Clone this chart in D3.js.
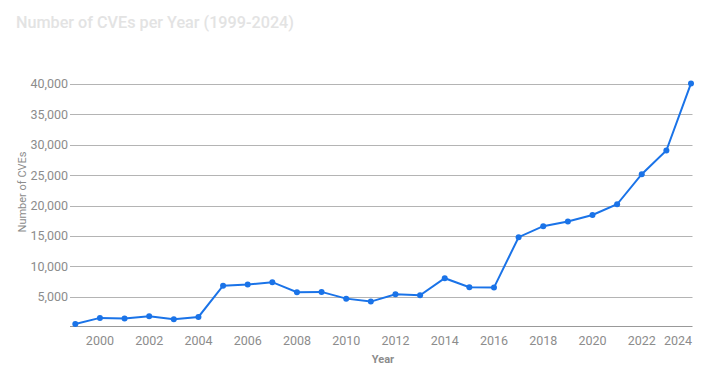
<!DOCTYPE html>
<html>
<head>
<meta charset="utf-8">
<script src="https://cdn.jsdelivr.net/npm/d3@7.9.0/dist/d3.min.js"></script>
<style>
  body { margin: 0; background: #fff; }
  svg { display: block; font-family: Roboto, "Noto Sans", sans-serif; }
</style>
</head>
<body>
<svg id="chart" width="708" height="380"></svg>
<script>
// Chart data
const years = d3.range(1999, 2025);
const cves = [500, 1500, 1400, 1750, 1270, 1650, 6800, 6980, 7380, 5720, 5780, 4670, 4180,
  5400, 5230, 8030, 6550, 6490, 14780, 16600, 17360, 18430, 20200, 25150, 29050, 40100];
const yTicks = [5000, 10000, 15000, 20000, 25000, 30000, 35000, 40000];
const xTicks = [2000, 2002, 2004, 2006, 2008, 2010, 2012, 2014, 2016, 2018, 2020, 2022, 2024];

const data = years.map((y, i) => ({ year: y, value: cves[i] }));

const svg = d3.select("#chart");

// Scales
const x = d3.scaleLinear().domain([1999, 2024]).range([75.3, 691]);
const y = d3.scaleLinear().domain([0, 40000]).range([327, 84]);

// Title
svg.append("text")
  .attr("x", 16).attr("y", 28)
  .attr("font-size", 16.2).attr("font-weight", 500)
  .attr("fill", "#e3e3e3")
  .text("Number of CVEs per Year (1999-2024)");

// Gridlines + y labels
const grid = svg.append("g");
yTicks.forEach(t => {
  grid.append("line")
    .attr("x1", 70).attr("x2", 692.5)
    .attr("y1", Math.round(y(t)) + 0.5).attr("y2", Math.round(y(t)) + 0.5)
    .attr("stroke", "#b4b4b4").attr("stroke-width", 1);
  grid.append("text")
    .attr("x", 68).attr("y", y(t))
    .attr("dy", "0.35em")
    .attr("text-anchor", "end")
    .attr("font-size", 12.5)
    .attr("fill", "#8c8c8c")
    .text(d3.format(",")(t));
});

// Baseline
svg.append("line")
  .attr("x1", 70).attr("x2", 692.5)
  .attr("y1", Math.round(y(0)) - 0.5).attr("y2", Math.round(y(0)) - 0.5)
  .attr("stroke", "#999").attr("stroke-width", 1);

// X labels
xTicks.forEach((t, i) => {
  const last = i === xTicks.length - 1;
  svg.append("text")
    .attr("x", last ? 692 : x(t))
    .attr("y", 345)
    .attr("text-anchor", last ? "end" : "middle")
    .attr("font-size", 12.5)
    .attr("fill", "#8c8c8c")
    .text(t);
});

// Axis titles
svg.append("text")
  .attr("x", 383).attr("y", 363)
  .attr("text-anchor", "middle")
  .attr("font-size", 11).attr("font-weight", 700)
  .attr("fill", "#8c8c8c")
  .text("Year");

svg.append("text")
  .attr("transform", "translate(26,192) rotate(-90)")
  .attr("text-anchor", "middle")
  .attr("font-size", 11)
  .attr("fill", "#8c8c8c")
  .text("Number of CVEs");

// Line + points
const line = d3.line().x(d => x(d.year)).y(d => y(d.value));

svg.append("path")
  .datum(data)
  .attr("d", line)
  .attr("fill", "none")
  .attr("stroke", "#1a73e8")
  .attr("stroke-width", 2);

svg.append("g")
  .selectAll("circle")
  .data(data)
  .join("circle")
  .attr("cx", d => x(d.year))
  .attr("cy", d => y(d.value))
  .attr("r", 3)
  .attr("fill", "#1a73e8");
</script>
</body>
</html>
